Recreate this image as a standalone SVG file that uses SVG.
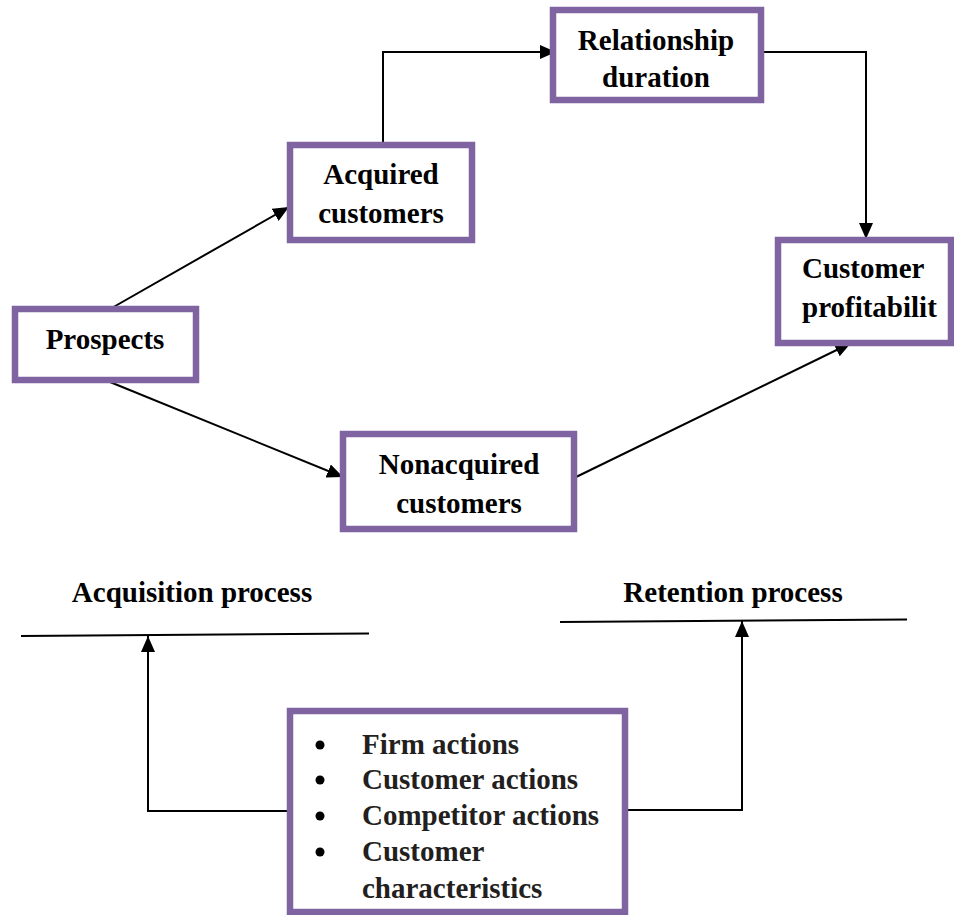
<svg xmlns="http://www.w3.org/2000/svg" width="954" height="915" viewBox="0 0 954 915">
  <defs>
    <style>
      .box { fill: #ffffff; stroke: #8064A2; stroke-width: 6.5; }
      .lbl { font-family: "Liberation Serif", "Times New Roman", serif; font-weight: bold; font-size: 29px; fill: #000000; text-anchor: middle; }
      .lst { font-family: "Liberation Serif", "Times New Roman", serif; font-weight: bold; font-size: 29px; fill: #231f20; }
      .conn { fill: none; stroke: #000000; stroke-width: 2; }
      .bar { fill: none; stroke: #000000; stroke-width: 2; }
    </style>
    <marker id="arrow" markerUnits="userSpaceOnUse" markerWidth="16" markerHeight="14" refX="16" refY="7" orient="auto">
      <path d="M0,0 L16,7 L0,14 Z" fill="#000000"/>
    </marker>
  </defs>
  <rect width="954" height="915" fill="#ffffff"/>

  <g id="connectors">
    <line class="conn" x1="110" y1="309" x2="289" y2="207" marker-end="url(#arrow)"/>
    <line class="conn" x1="110" y1="382" x2="343" y2="477" marker-end="url(#arrow)"/>
    <polyline class="conn" points="383,144 383,52 556,52" marker-end="url(#arrow)"/>
    <polyline class="conn" points="762,52 866,52 866,239" marker-end="url(#arrow)"/>
    <line class="conn" x1="574" y1="478" x2="851" y2="343" marker-end="url(#arrow)"/>
    <polyline class="conn" points="288,811 148,811 148,636" marker-end="url(#arrow)"/>
    <polyline class="conn" points="628,810 742,810 742,621" marker-end="url(#arrow)"/>
  </g>

  <g id="process-lines">
    <line class="bar" x1="21" y1="636" x2="369" y2="633.5"/>
    <line class="bar" x1="560" y1="622" x2="907" y2="619.5"/>
    <text class="lbl" x="192" y="602">Acquisition process</text>
    <text class="lbl" x="733" y="602">Retention process</text>
  </g>

  <g id="node-relationship">
    <rect class="box" x="553" y="10" width="208" height="90"/>
    <text class="lbl" x="656" y="50">Relationship</text>
    <text class="lbl" x="656" y="87">duration</text>
  </g>

  <g id="node-acquired">
    <rect class="box" x="290" y="145" width="182" height="95"/>
    <text class="lbl" x="381" y="184">Acquired</text>
    <text class="lbl" x="381" y="223">customers</text>
  </g>

  <g id="node-profitability">
    <rect class="box" x="778" y="240" width="173" height="103"/>
    <text class="lbl" x="802" y="278" style="text-anchor:start">Customer</text>
    <text class="lbl" x="802" y="317" style="text-anchor:start">profitabilit</text>
  </g>

  <g id="node-prospects">
    <rect class="box" x="15" y="309" width="181" height="71"/>
    <text class="lbl" x="105" y="349">Prospects</text>
  </g>

  <g id="node-nonacquired">
    <rect class="box" x="343" y="434" width="231" height="95"/>
    <text class="lbl" x="459" y="474">Nonacquired</text>
    <text class="lbl" x="459" y="513">customers</text>
  </g>

  <g id="node-factors">
    <rect class="box" x="290" y="711" width="335" height="201"/>
    <circle cx="320" cy="745" r="4.5" fill="#000000"/>
    <circle cx="320" cy="780" r="4.5" fill="#000000"/>
    <circle cx="320" cy="816" r="4.5" fill="#000000"/>
    <circle cx="320" cy="852" r="4.5" fill="#000000"/>
    <text class="lst" x="362" y="754">Firm actions</text>
    <text class="lst" x="362" y="789">Customer actions</text>
    <text class="lst" x="362" y="825">Competitor actions</text>
    <text class="lst" x="362" y="861">Customer</text>
    <text class="lst" x="362" y="898">characteristics</text>
  </g>
</svg>
